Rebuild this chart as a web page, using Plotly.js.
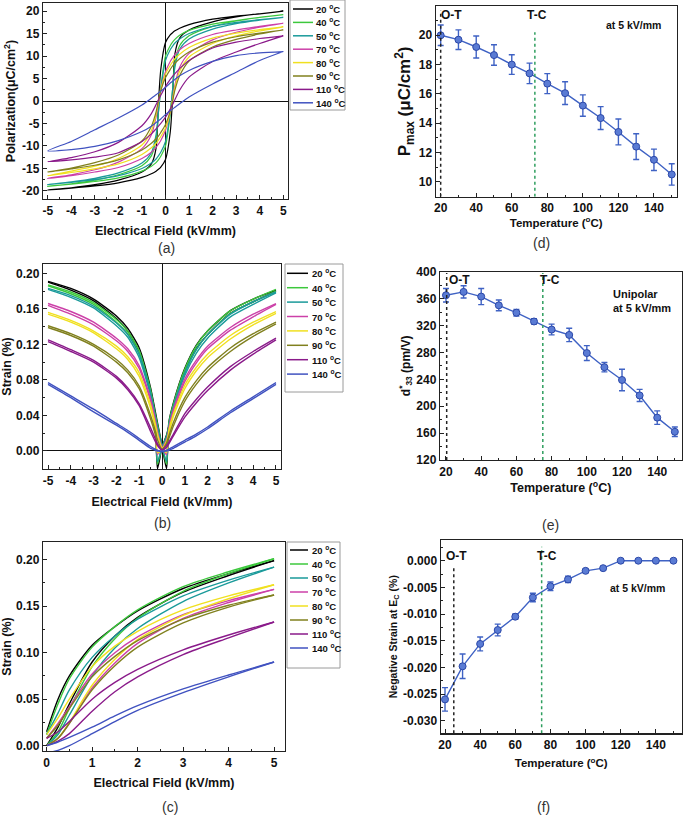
<!DOCTYPE html>
<html><head><meta charset="utf-8">
<script src="https://cdn.plot.ly/plotly-3.0.1.min.js"></script>
<style>html,body{margin:0;padding:0;background:#fff}#chart{width:685px;height:815px}</style>
</head><body><div id="chart"></div>
<script>
// ---------- shared ----------
const temps = ['20','40','50','70','80','90','110','140'];
const colors = ['#000000','#3cc83c','#1a9a9a','#cc40a8','#f0e020','#80801e','#8a1a8a','#4052c0'];

// ---------- (a) P-E loops ----------
const peE = [-5,-4,-3,-2,-1,-0.6,-0.4,-0.3,-0.2,0,0.2,0.3,0.4,0.6,1,2,3,4,5];
const pe20Asc = [-19.8,-19.4,-18.9,-18.2,-17.0,-16.2,-15.6,-15.2,-14.7,-13.0,-7.0,0.5,10.5,14.0,15.8,17.6,18.7,19.4,20.0];
const pe20Desc = [-19.8,-19.3,-18.6,-17.6,-15.8,-14.0,-10.5,-0.5,7.0,13.0,14.7,15.2,15.6,16.2,17.0,18.2,18.9,19.4,20.0];
const pe40Asc = [-19.0,-18.5,-17.9,-17.1,-15.6,-14.5,-13.7,-13.1,-12.3,-10.0,-3.0,2.5,8.5,12.3,14.5,16.6,17.8,18.6,19.2];
const pe40Desc = [-19.0,-18.4,-17.6,-16.4,-14.4,-12.2,-8.5,-2.5,3.0,10.0,12.3,13.1,13.7,14.6,15.7,17.1,17.9,18.6,19.2];
const pe50Asc = [-18.6,-18.1,-17.5,-16.6,-15.0,-13.8,-12.9,-12.2,-11.4,-9.0,-2.5,2.5,7.5,11.5,13.8,16.0,17.2,18.0,18.6];
const pe50Desc = [-18.6,-18.0,-17.2,-16.0,-13.8,-11.5,-7.5,-2.5,2.5,9.0,11.4,12.2,12.9,13.8,15.0,16.6,17.5,18.1,18.6];
const pe70Asc = [-17.2,-16.6,-15.8,-14.8,-12.8,-11.4,-10.3,-9.6,-8.8,-6.5,-2.5,0.5,3.5,7.5,10.6,13.6,15.3,16.4,17.3];
const pe70Desc = [-17.2,-16.4,-15.3,-13.6,-10.6,-7.5,-3.5,-0.5,2.5,6.5,8.8,9.6,10.3,11.4,12.8,14.8,15.8,16.6,17.3];
const pe80Asc = [-16.6,-15.9,-15.1,-14.0,-11.9,-10.4,-9.4,-8.7,-7.9,-6.0,-2.5,0.3,3.0,6.6,9.8,12.8,14.5,15.6,16.5];
const pe80Desc = [-16.6,-15.6,-14.5,-12.8,-9.8,-6.6,-3.0,-0.3,2.5,6.0,7.9,8.7,9.4,10.4,11.9,14.0,15.1,15.9,16.5];
const pe90Asc = [-15.8,-15.1,-14.3,-13.1,-10.9,-9.4,-8.4,-7.8,-7.0,-5.2,-2.3,0.0,2.4,5.6,8.9,12.0,13.7,14.9,15.8];
const pe90Desc = [-15.8,-14.9,-13.7,-12.0,-8.9,-5.6,-2.4,0.0,2.3,5.2,7.0,7.8,8.4,9.4,10.9,13.1,14.3,15.1,15.8];
const pe110Asc = [-13.5,-13.1,-12.5,-11.5,-9.0,-7.3,-6.2,-5.6,-5.0,-3.6,-1.8,-0.8,0.3,2.4,5.3,8.8,10.9,12.8,14.5];
const pe110Desc = [-13.5,-12.6,-11.3,-9.2,-5.5,-2.8,-0.8,0.3,1.3,3.2,4.8,5.5,6.1,7.2,9.0,11.8,13.1,13.9,14.5];
const pe140Asc = [-11.1,-10.8,-10.1,-8.8,-6.8,-5.6,-4.8,-4.4,-4.0,-3.0,-2.2,-1.8,-1.4,-0.6,0.9,3.8,6.4,9.0,11.0];
const pe140Desc = [-11.1,-9.0,-6.4,-3.8,-0.9,0.6,1.4,1.8,2.2,3.0,4.0,4.4,4.8,5.6,6.8,8.8,10.1,10.7,11.0];
const peAscList = [pe20Asc,pe40Asc,pe50Asc,pe70Asc,pe80Asc,pe90Asc,pe110Asc,pe140Asc];
const peDescList = [pe20Desc,pe40Desc,pe50Desc,pe70Desc,pe80Desc,pe90Desc,pe110Desc,pe140Desc];

// ---------- (b) bipolar S-E ----------
const sbE = [-5,-4,-3,-2,-1.5,-1,-0.5,-0.3,-0.2,0,0.2,0.3,0.5,1,1.5,2,3,4,5];
const sb20D = [0.190,0.181,0.169,0.149,0.135,0.112,0.067,0.038,-0.020,0.004,0.018,0.028,0.050,0.089,0.115,0.131,0.155,0.168,0.180];
const sb20A = [0.191,0.183,0.171,0.152,0.138,0.116,0.071,0.045,0.032,0.006,-0.020,0.032,0.054,0.093,0.119,0.135,0.158,0.171,0.181];
const sb40D = [0.186,0.177,0.165,0.145,0.132,0.109,0.065,0.036,-0.015,0.004,0.017,0.027,0.049,0.088,0.114,0.131,0.155,0.168,0.180];
const sb40A = [0.187,0.179,0.167,0.148,0.135,0.113,0.069,0.042,0.030,0.006,-0.015,0.031,0.053,0.092,0.118,0.135,0.158,0.171,0.182];
const sb50D = [0.182,0.173,0.161,0.141,0.128,0.105,0.062,0.034,-0.012,0.004,0.016,0.026,0.047,0.085,0.110,0.127,0.151,0.165,0.178];
const sb50A = [0.183,0.175,0.163,0.144,0.131,0.109,0.066,0.040,0.028,0.006,-0.012,0.029,0.050,0.088,0.114,0.131,0.154,0.168,0.179];
const sb70D = [0.164,0.154,0.142,0.124,0.112,0.093,0.056,0.030,-0.004,0.003,0.013,0.023,0.044,0.078,0.099,0.115,0.136,0.151,0.165];
const sb70A = [0.166,0.157,0.145,0.127,0.115,0.096,0.059,0.036,0.022,0.004,-0.004,0.026,0.047,0.081,0.102,0.118,0.139,0.154,0.166];
const sb80D = [0.154,0.145,0.133,0.115,0.103,0.084,0.048,0.026,-0.002,0.002,0.011,0.020,0.039,0.070,0.090,0.105,0.126,0.142,0.155];
const sb80A = [0.156,0.147,0.135,0.118,0.106,0.088,0.052,0.031,0.019,0.003,-0.002,0.023,0.042,0.074,0.094,0.109,0.130,0.145,0.157];
const sb90D = [0.139,0.130,0.118,0.100,0.088,0.070,0.036,0.019,0.008,0.002,0.007,0.014,0.028,0.056,0.075,0.090,0.112,0.129,0.143];
const sb90A = [0.141,0.132,0.120,0.103,0.091,0.073,0.040,0.023,0.013,0.002,0.009,0.017,0.032,0.060,0.079,0.094,0.116,0.132,0.145];
const sb110D = [0.123,0.112,0.100,0.082,0.069,0.051,0.022,0.011,0.006,0.001,0.004,0.008,0.017,0.038,0.054,0.068,0.091,0.109,0.125];
const sb110A = [0.125,0.114,0.102,0.084,0.071,0.053,0.026,0.014,0.008,0.001,0.006,0.010,0.019,0.042,0.058,0.072,0.095,0.112,0.127];
const sb140D = [0.075,0.060,0.044,0.029,0.021,0.012,0.003,0.001,0.000,0.000,0.000,0.001,0.003,0.010,0.017,0.025,0.043,0.059,0.075];
const sb140A = [0.077,0.062,0.047,0.031,0.023,0.014,0.005,0.002,0.001,-0.001,0.001,0.002,0.005,0.012,0.019,0.027,0.045,0.061,0.077];
const sbDList = [sb20D,sb40D,sb50D,sb70D,sb80D,sb90D,sb110D,sb140D];
const sbAList = [sb20A,sb40A,sb50A,sb70A,sb80A,sb90A,sb110A,sb140A];

// ---------- (c) unipolar S-E ----------
const scE = [0,0.25,0.5,1,1.5,2,3,4,5];
const sc20Up = [0.015,0.050,0.075,0.108,0.128,0.145,0.169,0.185,0.199];
const sc20Lo = [0.000,0.020,0.045,0.090,0.118,0.138,0.165,0.183,0.199];
const sc40Up = [0.012,0.045,0.072,0.106,0.128,0.146,0.171,0.187,0.201];
const sc40Lo = [0.000,0.015,0.040,0.085,0.115,0.137,0.166,0.185,0.201];
const sc50Up = [0.012,0.035,0.060,0.095,0.118,0.136,0.161,0.178,0.192];
const sc50Lo = [0.000,0.012,0.033,0.075,0.105,0.126,0.155,0.175,0.192];
const sc70Up = [0.008,0.024,0.042,0.077,0.100,0.117,0.141,0.156,0.168];
const sc70Lo = [0.000,0.008,0.024,0.062,0.089,0.110,0.137,0.154,0.168];
const sc80Up = [0.012,0.030,0.050,0.085,0.107,0.123,0.146,0.161,0.173];
const sc80Lo = [0.000,0.008,0.025,0.065,0.093,0.114,0.140,0.158,0.173];
const sc90Up = [0.008,0.022,0.040,0.074,0.096,0.113,0.136,0.151,0.162];
const sc90Lo = [0.000,0.008,0.024,0.060,0.086,0.106,0.132,0.149,0.162];
const sc110Up = [0.008,0.015,0.026,0.050,0.068,0.082,0.103,0.119,0.133];
const sc110Lo = [0.000,0.005,0.013,0.037,0.058,0.074,0.098,0.116,0.133];
const sc140Up = [0.000,0.004,0.009,0.020,0.032,0.043,0.061,0.076,0.090];
const sc140Lo = [-0.008,-0.005,0.000,0.013,0.026,0.038,0.057,0.074,0.090];
const scUpList = [sc20Up,sc40Up,sc50Up,sc70Up,sc80Up,sc90Up,sc110Up,sc140Up];
const scLoList = [sc20Lo,sc40Lo,sc50Lo,sc70Lo,sc80Lo,sc90Lo,sc110Lo,sc140Lo];

// ---------- (d)(e)(f) vs temperature ----------
const tempC = [20,30,40,50,60,70,80,90,100,110,120,130,140,150];
const pmax = [20.0,19.7,19.2,18.65,18.0,17.4,16.7,16.05,15.2,14.35,13.4,12.4,11.5,10.5];
const pmaxErr = [0.7,0.67,0.75,0.7,0.67,0.7,0.68,0.78,0.73,0.78,0.88,0.88,0.73,0.73];
const d33 = [365,370,363,350,339,326,314,306,279,258,239,216,183,162];
const d33Err = [10,9,12,8,5,4,8,10,11,7,16,9,10,7];
const negStrain = [-0.026,-0.0198,-0.0156,-0.013,-0.0105,-0.0069,-0.0048,-0.0035,-0.0019,-0.0014,0,0,0,0];
const negStrainErr = [0.0022,0.0023,0.0013,0.0011,0.0005,0.0008,0.0008,0.0006,0.0003,0.0003,0,0,0,0];

// tick labels (hyphen minus like the original)
const tickA_x = [-5,-4,-3,-2,-1,0,1,2,3,4,5];
const tickA_xt = ['-5','-4','-3','-2','-1','0','1','2','3','4','5'];
const tickA_y = [-20,-15,-10,-5,0,5,10,15,20];
const tickA_yt = ['-20','-15','-10','-5','0','5','10','15','20'];
const tickF_y = [0,-0.005,-0.01,-0.015,-0.02,-0.025,-0.03];
const tickF_yt = ['0.000','-0.005','-0.010','-0.015','-0.020','-0.025','-0.030'];

// ---------- build ----------
const FONT = '"Liberation Sans", Arial, sans-serif';
const traces = [];
for (let i = 0; i < temps.length; i++) {
  const rev = peE.slice().reverse();
  traces.push({type:'scatter', mode:'lines', xaxis:'x', yaxis:'y', showlegend:false,
    x: peE.concat(rev), y: peAscList[i].concat(peDescList[i].slice().reverse()),
    line:{color:colors[i], width:1.2, shape:'spline', smoothing:0.7}});
}
for (let i = 0; i < temps.length; i++) {
  traces.push({type:'scatter', mode:'lines', xaxis:'x2', yaxis:'y2', showlegend:false,
    x: sbE.slice().reverse().concat([null], sbE),
    y: sbDList[i].slice().reverse().concat([null], sbAList[i]),
    line:{color:colors[i], width:1.4, shape:'spline', smoothing:0.6}});
}
for (let i = 0; i < temps.length; i++) {
  traces.push({type:'scatter', mode:'lines', xaxis:'x3', yaxis:'y3', showlegend:false,
    x: scE.concat([null], scE), y: scUpList[i].concat([null], scLoList[i]),
    line:{color:colors[i], width:1.4, shape:'spline', smoothing:0.8}});
}
const blue = '#3f62c4';
const mk = {symbol:'circle', size:7, color:'#5a7bd4', line:{color:'#2c48a8', width:1}};
traces.push({type:'scatter', mode:'lines+markers', xaxis:'x4', yaxis:'y4', showlegend:false,
  x: tempC, y: pmax, line:{color:blue, width:1.4}, marker:mk,
  error_y:{type:'data', array:pmaxErr, color:blue, thickness:1.4, width:3}});
traces.push({type:'scatter', mode:'lines+markers', xaxis:'x5', yaxis:'y5', showlegend:false,
  x: tempC, y: d33, line:{color:blue, width:1.4}, marker:mk,
  error_y:{type:'data', array:d33Err, color:blue, thickness:1.4, width:3}});
traces.push({type:'scatter', mode:'lines+markers', xaxis:'x6', yaxis:'y6', showlegend:false,
  x: tempC, y: negStrain, line:{color:blue, width:1.4}, marker:mk,
  error_y:{type:'data', array:negStrainErr, color:blue, thickness:1.4, width:3}});

const W = 685, H = 815;
const px = v => v / W, py = v => 1 - v / H;
const tf = {family:FONT, size:12, color:'#111', weight:'bold'};
function ax(o) {
  return Object.assign({showline:true, linecolor:'#222', linewidth:1.2, mirror:true,
    ticks:'inside', ticklen:4, tickwidth:1, tickcolor:'#222', showgrid:false, zeroline:false,
    automargin:false, tickfont:tf}, o);
}
function ttl(text, size, standoff) {
  return {text:text, font:{family:FONT, size:size, color:'#111', weight:'bold'}, standoff:standoff};
}
const layout = {
  width:W, height:H, margin:{l:0,r:0,t:0,b:0}, paper_bgcolor:'#fff', plot_bgcolor:'#fff',
  showlegend:false, font:{family:FONT},
  xaxis: ax({domain:[px(43),px(288)], anchor:'y', range:[-5.2,5.2], tickmode:'array', tickvals:tickA_x, ticktext:tickA_xt,
    minor:{ticks:'inside', ticklen:2, dtick:0.5, tick0:0, tickcolor:'#222'},
    zeroline:true, zerolinecolor:'#111', zerolinewidth:1, title:ttl('Electrical Field (kV/mm)',12.5,9)}),
  yaxis: ax({domain:[py(199),py(3)], anchor:'x', range:[-21.8,21.8], tickmode:'array', tickvals:tickA_y, ticktext:tickA_yt,
    minor:{ticks:'inside', ticklen:2, dtick:2.5, tick0:0, tickcolor:'#222'},
    zeroline:true, zerolinecolor:'#111', zerolinewidth:1, title:ttl('Polarization(μC/cm<sup>2</sup>)',12.5,3)}),
  xaxis2: ax({domain:[px(43),px(281)], anchor:'y2', range:[-5.22,5.22], tickmode:'array', tickvals:tickA_x, ticktext:tickA_xt,
    minor:{ticks:'inside', ticklen:2, dtick:0.5, tick0:0, tickcolor:'#222'},
    zeroline:true, zerolinecolor:'#111', zerolinewidth:1, title:ttl('Electrical Field (kV/mm)',12.5,10)}),
  yaxis2: ax({domain:[py(469),py(264)], anchor:'x2', range:[-0.0203,0.2105], dtick:0.04, tick0:0, tickformat:'.2f',
    minor:{ticks:'inside', ticklen:2, dtick:0.02, tick0:0, tickcolor:'#222'},
    zeroline:true, zerolinecolor:'#111', zerolinewidth:1, title:ttl('Strain (%)',12.5,3)}),
  xaxis3: ax({domain:[px(43),px(285)], anchor:'y3', range:[-0.08,5.24], dtick:1, tick0:0,
    minor:{ticks:'inside', ticklen:2, dtick:0.5, tick0:0, tickcolor:'#222'},
    title:ttl('Electrical Field (kV/mm)',12.5,9)}),
  yaxis3: ax({domain:[py(751),py(542)], anchor:'x3', range:[-0.0057,0.219], dtick:0.05, tick0:0, tickformat:'.2f',
    minor:{ticks:'inside', ticklen:2, dtick:0.025, tick0:0, tickcolor:'#222'},
    title:ttl('Strain (%)',12.5,3)}),
  xaxis4: ax({domain:[px(435.7),px(676.7)], anchor:'y4', range:[17.2,152.8], dtick:20, tick0:20,
    minor:{ticks:'inside', ticklen:2, dtick:10, tick0:20, tickcolor:'#222'},
    title:ttl('Temperature (<sup>o</sup>C)',11.5,4)}),
  yaxis4: ax({domain:[py(196.7),py(6)], anchor:'x4', range:[8.98,22], dtick:2, tick0:10,
    minor:{ticks:'inside', ticklen:2, dtick:1, tick0:10, tickcolor:'#222'},
    title:ttl('P<sub>max</sub> (μC/cm<sup>2</sup>)',17,3)}),
  xaxis5: ax({domain:[px(440),px(681.7)], anchor:'y5', range:[16.6,153.9], dtick:20, tick0:20,
    minor:{ticks:'inside', ticklen:2, dtick:10, tick0:20, tickcolor:'#222'},
    title:ttl('Temperature (<sup>o</sup>C)',12.5,4)}),
  yaxis5: ax({domain:[py(460),py(271.7)], anchor:'x5', range:[120,400], dtick:40, tick0:120,
    minor:{ticks:'inside', ticklen:2, dtick:20, tick0:120, tickcolor:'#222'},
    title:ttl('d<sup>*</sup><sub>33</sub> (pm/V)',12,3)}),
  xaxis6: ax({domain:[px(440.7),px(681.7)], anchor:'y6', range:[17.55,154.7], dtick:20, tick0:20,
    minor:{ticks:'inside', ticklen:2, dtick:10, tick0:20, tickcolor:'#222'},
    title:ttl('Temperature (<sup>o</sup>C)',11.5,8)}),
  yaxis6: ax({domain:[py(733.3),py(540)], anchor:'x6', range:[-0.03236,0.00388], tickmode:'array', tickvals:tickF_y, ticktext:tickF_yt,
    minor:{ticks:'inside', ticklen:2, dtick:0.0025, tick0:0, tickcolor:'#222'},
    title:ttl('Negative Strain at E<sub>C</sub> (%)',10.5,3)}),
  shapes: [], annotations: []
};

// phase-boundary dotted lines
const S = layout.shapes, A = layout.annotations;
const vline = (xr, yr, x, y0, y1, c) => S.push({type:'line', xref:xr, yref:yr, x0:x, x1:x, y0:y0, y1:y1, line:{color:c, width:1.5, dash:'dot'}});
vline('x4','y4',20,8.98,21.7,'#222'); vline('x4','y4',73,8.98,20.2,'#2e9e5e');
vline('x5','y5',20.4,120,398,'#222'); vline('x5','y5',75,120,398,'#2e9e5e');
vline('x6','y6',25,-0.03236,-0.001,'#222'); vline('x6','y6',75,-0.03236,0.0026,'#2e9e5e');

const note = (x, y, text, size, opts) => A.push(Object.assign({xref:'paper', yref:'paper', x:px(x), y:py(y), text:text, showarrow:false,
  xanchor:'center', yanchor:'middle', font:{family:FONT, size:size, color:'#111', weight:'bold'}}, opts||{}));
note(451.7,15,'O-T',12); note(536.7,15,'T-C',12); note(633,25,'at 5 kV/mm',10.5);
note(459,280,'O-T',12); note(550,280,'T-C',12); note(610.7,294,'Unipolar',11,{xanchor:'left'}); note(610.7,308.3,'at 5 kV/mm',11,{xanchor:'left'});
note(456.7,556,'O-T',12); note(546.7,556,'T-C',12); note(637.7,587.7,'at 5 kV/mm',10.5);
// panel letters
const letter = (x, y, t) => A.push({xref:'paper', yref:'paper', x:px(x), y:py(y), text:t, showarrow:false, xanchor:'center', yanchor:'middle',
  font:{family:FONT, size:14, color:'#333'}});
letter(166,248,'(a)'); letter(162,523,'(b)'); letter(170,807,'(c)');
letter(541.7,243,'(d)'); letter(550,525,'(e)'); letter(543,806.7,'(f)');

// legends
function legend(x0, x1, y0, y1, firstY, step, lx0, lx1, tx) {
  S.push({type:'rect', xref:'paper', yref:'paper', x0:px(x0), x1:px(x1), y0:py(y1), y1:py(y0), line:{color:'#9a9a9a', width:1}, fillcolor:'rgba(0,0,0,0)'});
  for (let i = 0; i < temps.length; i++) {
    const y = firstY + i * step;
    S.push({type:'line', xref:'paper', yref:'paper', x0:px(lx0), x1:px(lx1), y0:py(y), y1:py(y), line:{color:colors[i], width:1.5}});
    A.push({xref:'paper', yref:'paper', x:px(tx), y:py(y), text:temps[i] + ' <sup>o</sup>C', showarrow:false, xanchor:'left', yanchor:'middle',
      font:{family:FONT, size:9.5, color:'#111', weight:'bold'}});
  }
}
legend(290,345,0,110,9,13.4,293,313,314);
legend(285,343,264,392,273.3,14.4,287,308,310);
legend(287,340,542,668,550,14,290,308,309.5);

Plotly.newPlot('chart', traces, layout, {staticPlot:true});
</script></body></html>
